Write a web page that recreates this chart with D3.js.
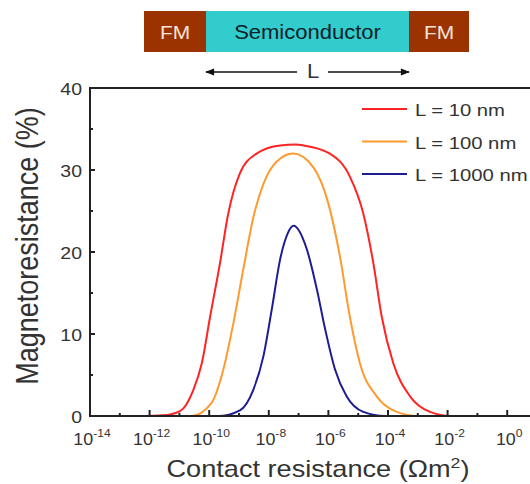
<!DOCTYPE html>
<html>
<head>
<meta charset="utf-8">
<script src="https://cdn.jsdelivr.net/npm/d3@7"></script>
<style>
  body { margin: 0; background: #fff; }
  text { font-family: "Liberation Sans", Arial, sans-serif; }
</style>
</head>
<body>
<svg id="chart" width="530" height="484"></svg>
<script>
// exponents of contact resistance (log10 of Ohm m^2) and magnetoresistance (%)
const seriesNames = ["L = 10 nm", "L = 100 nm", "L = 1000 nm"];
const seriesColors = ["#ff2424", "#ff9a2e", "#1c1c94"];

const expL10 = [-14, -12.2, -11.55, -10.98, -10.53, -10.25, -9.97, -9.64, -9.36, -8.97, -8.41, -7.62, -7.1, -6.84, -5.95, -5.28, -4.83, -4.49, -4.21, -3.82, -3.26, -2.59, -1.9, 1];
const mrL10  = [0, 0, 0.08, 0.6, 3.2, 6.4, 12.1, 18.6, 24.7, 29.6, 32.0, 33.0, 33.1, 33.0, 32.0, 29.2, 24.7, 18.6, 12.1, 6.4, 2.4, 0.5, 0, 0];

const expL100 = [-14, -10.6, -9.92, -9.53, -9.19, -8.86, -8.52, -8.18, -7.74, -7.18, -6.5, -6.0, -5.61, -5.28, -4.94, -4.38, -3.71, -3.0, 1];
const mrL100  = [0, 0, 1.6, 5.6, 11.3, 17.8, 24.2, 28.3, 31.0, 32.0, 30.3, 25.9, 19.4, 12.1, 6.4, 2.4, 0.5, 0, 0];

const expL1000 = [-14, -9.7, -8.97, -8.52, -8.18, -7.9, -7.62, -7.35, -7.17, -6.73, -6.39, -6.11, -5.78, -5.39, -4.83, -4.1, 1];
const mrL1000  = [0, 0, 0.7, 3.2, 7.3, 13.0, 19.1, 22.4, 23.2, 20.4, 15.5, 10.6, 5.7, 2.4, 0.5, 0, 0];

const xMajorExp = [-14, -12, -10, -8, -6, -4, -2, 0];
const xMinorExp = [-13, -11, -9, -7, -5, -3, -1];
const yMajor = [0, 10, 20, 30, 40];
const yMinor = [5, 15, 25, 35];

const svg = d3.select("#chart");

//Plot area, the right side runs past the window edge
const plotLeft = 90, plotTop = 88, plotBottom = 416, plotRight = 537;

const x = d3.scaleLog().domain([1e-14, 1e1]).range([plotLeft, plotRight]);
const y = d3.scaleLinear().domain([0, 40]).range([plotBottom, plotTop]);

const seriesData = [
  expL10.map((e, i) => ({r: Math.pow(10, e), v: mrL10[i]})),
  expL100.map((e, i) => ({r: Math.pow(10, e), v: mrL100[i]})),
  expL1000.map((e, i) => ({r: Math.pow(10, e), v: mrL1000[i]}))
];

//The original figure is a bit wider than tall, so texts get a horizontal stretch
const stretch = (px, py, k) => `translate(${px},${py}) scale(${k},1)`;

//-------------------------------header diagram--------------------------------
const head = svg.append("g");
const boxes = [
  {x0: 144, x1: 206, fill: "#9a3300", label: "FM", color: "#f6e4d8", size: 19},
  {x0: 206, x1: 409, fill: "#33cccc", label: "Semiconductor", color: "#10202a", size: 20},
  {x0: 409, x1: 469, fill: "#9a3300", label: "FM", color: "#f6e4d8", size: 19}
];
head.selectAll("rect").data(boxes).enter().append("rect")
    .attr("x", d => d.x0).attr("y", 11)
    .attr("width", d => d.x1 - d.x0).attr("height", 41)
    .style("fill", d => d.fill);
head.selectAll("text").data(boxes).enter().append("text")
    .attr("transform", d => stretch((d.x0 + d.x1) / 2, 39, 1.1))
    .attr("text-anchor", "middle")
    .style("font-size", d => d.size + "px")
    .style("fill", d => d.color)
    .text(d => d.label);

svg.append("defs").append("marker")
    .attr("id", "arrow").attr("viewBox", "0 0 10 10")
    .attr("refX", 9).attr("refY", 5)
    .attr("markerWidth", 10).attr("markerHeight", 9)
    .attr("markerUnits", "userSpaceOnUse")
    .attr("orient", "auto")
  .append("path").attr("d", "M0,1 L10,5 L0,9 Z").style("fill", "#111");

head.append("line").attr("x1", 297).attr("x2", 206).attr("y1", 72).attr("y2", 72)
    .style("stroke", "#111").style("stroke-width", 1.4).attr("marker-end", "url(#arrow)");
head.append("line").attr("x1", 328).attr("x2", 409).attr("y1", 72).attr("y2", 72)
    .style("stroke", "#111").style("stroke-width", 1.4).attr("marker-end", "url(#arrow)");
head.append("text").attr("transform", stretch(313, 78, 1.1)).attr("text-anchor", "middle")
    .style("font-size", "20px").style("fill", "#333").text("L");

//-------------------------------curves----------------------------------------
const line = d3.line()
    .x(d => x(d.r))
    .y(d => y(d.v))
    .curve(d3.curveMonotoneX);

svg.append("g").selectAll("path")
    .data(seriesData).enter().append("path")
    .attr("d", line)
    .style("fill", "none")
    .style("stroke", (d, i) => seriesColors[i])
    .style("stroke-width", 2);

//-------------------------------frame and ticks-------------------------------
const axisColor = "#222";
const frame = svg.append("g");
frame.append("path")
    .attr("d", `M${plotRight},${plotTop}H${plotLeft}V${plotBottom}H${plotRight}`)
    .style("fill", "none").style("stroke", axisColor).style("stroke-width", 2);

//Ticks point into the plot
frame.selectAll(".ymaj").data(yMajor).enter().append("line")
    .attr("x1", plotLeft).attr("x2", plotLeft + 5)
    .attr("y1", d => y(d)).attr("y2", d => y(d))
    .style("stroke", axisColor).style("stroke-width", 2);
frame.selectAll(".ymin").data(yMinor).enter().append("line")
    .attr("x1", plotLeft).attr("x2", plotLeft + 3)
    .attr("y1", d => y(d)).attr("y2", d => y(d))
    .style("stroke", axisColor).style("stroke-width", 2);
frame.selectAll(".xmaj").data(xMajorExp).enter().append("line")
    .attr("x1", d => x(Math.pow(10, d))).attr("x2", d => x(Math.pow(10, d)))
    .attr("y1", plotBottom).attr("y2", plotBottom - 6)
    .style("stroke", axisColor).style("stroke-width", 2);
frame.selectAll(".xmin").data(xMinorExp).enter().append("line")
    .attr("x1", d => x(Math.pow(10, d))).attr("x2", d => x(Math.pow(10, d)))
    .attr("y1", plotBottom).attr("y2", plotBottom - 3)
    .style("stroke", axisColor).style("stroke-width", 2);

//Tick labels
frame.selectAll(".ylab").data(yMajor).enter().append("text")
    .attr("transform", d => stretch(plotLeft - 8, y(d) + 6.5, 1.18))
    .attr("text-anchor", "end")
    .style("font-size", "16.5px").style("fill", "#333")
    .text(d => d);

const xl = frame.selectAll(".xlab").data(xMajorExp).enter().append("text")
    .attr("transform", d => stretch(x(Math.pow(10, d)) + 2, 445, 1.05))
    .attr("text-anchor", "middle")
    .style("font-size", "17px").style("fill", "#333");
xl.append("tspan").text("10");
xl.append("tspan").attr("dy", -8).style("font-size", "11.5px").text(d => d);

//Axis titles
svg.append("text")
    .attr("transform", stretch(38, 246, 1.18) + " rotate(-90)")
    .attr("text-anchor", "middle")
    .style("font-size", "27px").style("fill", "#333")
    .text("Magnetoresistance (%)");

const xt = svg.append("text")
    .attr("transform", stretch(318, 477, 1.18))
    .attr("text-anchor", "middle")
    .style("font-size", "23px").style("fill", "#333");
xt.append("tspan").text("Contact resistance (\u03A9m");
xt.append("tspan").attr("dy", -9).style("font-size", "15px").text("2");
xt.append("tspan").attr("dy", 9).text(")");

//-------------------------------legend----------------------------------------
const legend = svg.append("g").selectAll("g")
    .data(seriesNames).enter().append("g")
    .attr("transform", (d, i) => `translate(362,${109 + i * 32.5})`);
legend.append("line").attr("x1", 0).attr("x2", 45)
    .style("stroke", (d, i) => seriesColors[i]).style("stroke-width", 2);
legend.append("text").attr("transform", stretch(53, 7, 1.18))
    .style("font-size", "17.2px").style("fill", "#333")
    .text(d => d);
</script>
</body>
</html>
